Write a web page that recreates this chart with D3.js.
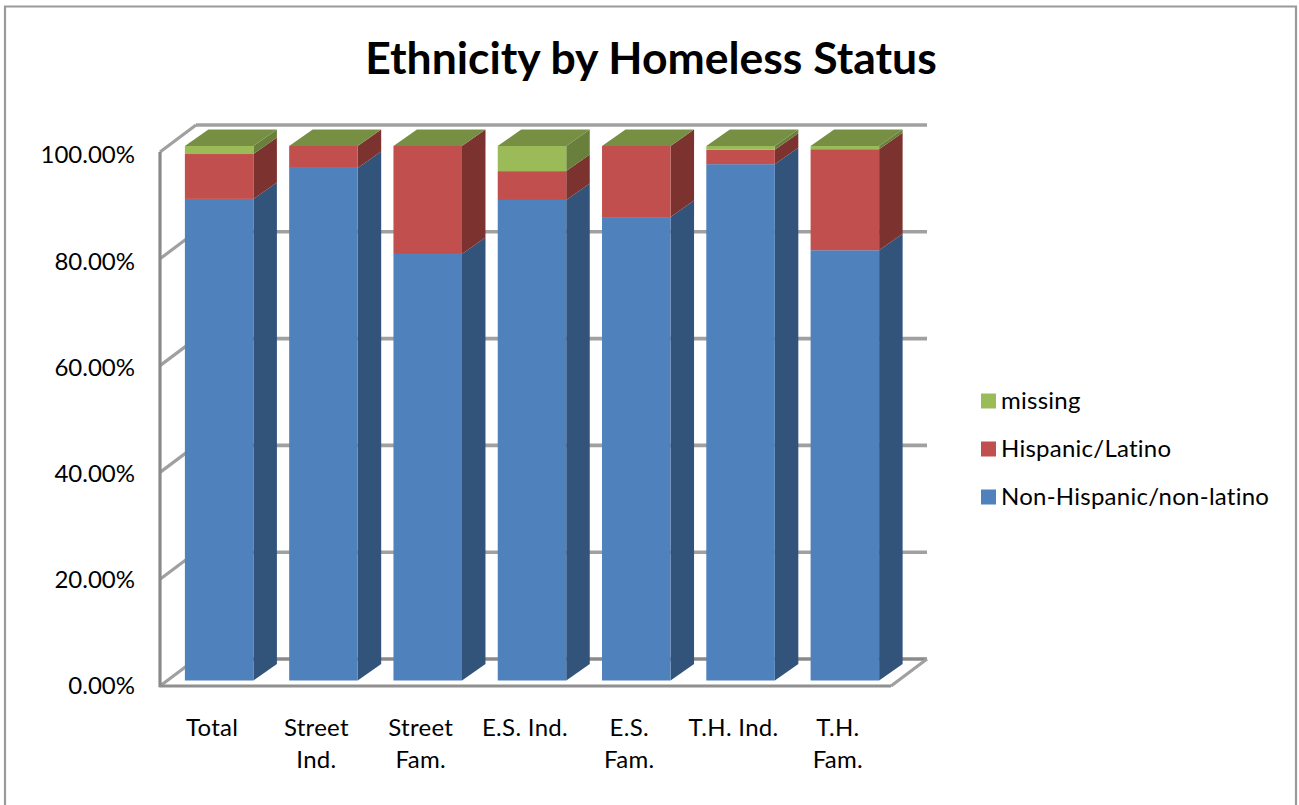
<!DOCTYPE html>
<html><head><meta charset="utf-8">
<script src="https://cdn.jsdelivr.net/npm/d3@7"></script>
<style>html,body{margin:0;padding:0;background:#fff;overflow:hidden}svg{display:block}text{font-family:Lato,"Open Sans",sans-serif;fill:#000}</style>
</head><body><svg id="c" width="1299" height="805"></svg>
<script>
const categories = [["Total"],["Street","Ind."],["Street","Fam."],["E.S. Ind."],["E.S.","Fam."],["T.H. Ind."],["T.H.","Fam."]];
const nonHispanic = [90.1,95.9,79.8,89.9,86.7,96.6,80.5];
const hispanic    = [8.4,4.1,20.2,5.4,13.3,2.7,18.9];
const missing     = [1.5,0,0,4.7,0,0.7,0.6];
const seriesNames = ["Non-Hispanic/non-latino","Hispanic/Latino","missing"];
const tickValues  = [0,20,40,60,80,100];
const legendOrder = [2,1,0];
const frontColors = ["#4f81bd","#c0504d","#9bbb59"];
const sideColors  = ["#31527a","#7b312f","#67803a"];
const topColor    = "#768f43";

const svg = d3.select("#c");
const dx = 23.5, dy = -16.5, wallDx = 36, wallDy = -27;
const x = d3.scaleBand().domain(d3.range(categories.length)).range([160,890]).paddingInner(0.343).paddingOuter(0.1715);
const barOffset = 7;
const yBar = d3.scaleLinear().domain([0,100]).range([680.5,146]);
const yWall = d3.scaleLinear().domain([0,100]).range([686,152]);
const yLabel = d3.scaleLinear().domain([0,100]).range([686,155]);

// outer frame
const frame = "#9a9a9a";
svg.append("path").attr("d","M5,805V6.5H1296V805").attr("fill","none").attr("stroke",frame).attr("stroke-width",2.2);

// soft blur like the reference
const defs = svg.append("defs");
defs.append("filter").attr("id","soft").attr("x","-5%").attr("y","-5%").attr("width","110%").attr("height","110%")
  .append("feGaussianBlur").attr("stdDeviation",0.7);

const plot = svg.append("g").attr("filter","url(#soft)");
const xL = 160, xR = 891;
const grid = "#a0a0a0";

// back gridlines
plot.selectAll("line.grid").data(tickValues).join("line").attr("class","grid")
  .attr("x1",xL+wallDx).attr("x2",xR+wallDx)
  .attr("y1",d=>yWall(d)+wallDy).attr("y2",d=>yWall(d)+wallDy)
  .attr("stroke",d=>d===0?"#8a8a8a":grid).attr("stroke-width",3.6);
// left wall diagonals
plot.selectAll("line.diag").data(tickValues).join("line").attr("class","diag")
  .attr("x1",xL).attr("x2",xL+wallDx)
  .attr("y1",d=>yWall(d)).attr("y2",d=>yWall(d)+wallDy)
  .attr("stroke",grid).attr("stroke-width",3.2);
// left wall vertical and floor
plot.append("line").attr("x1",xL).attr("x2",xL).attr("y1",yWall(100)).attr("y2",yWall(0)+1).attr("stroke","#8a8a8a").attr("stroke-width",3.2);
plot.append("line").attr("x1",xL-1).attr("x2",xR).attr("y1",yWall(0)).attr("y2",yWall(0)).attr("stroke","#909090").attr("stroke-width",3.2);
plot.append("line").attr("x1",xR).attr("x2",xR+wallDx).attr("y1",yWall(0)).attr("y2",yWall(0)+wallDy).attr("stroke","#a0a0a0").attr("stroke-width",3.2);

// stacked bars
const stackRows = categories.map((c,i)=>({i,0:nonHispanic[i],1:hispanic[i],2:missing[i]}));
const stacked = d3.stack().keys([0,1,2])(stackRows);
const poly = pts => pts.map(p=>p.join(",")).join(" ");
stackRows.forEach((row,i)=>{
  const g = plot.append("g");
  const l = x(i)+barOffset, r = l+x.bandwidth();
  stacked.forEach((s,k)=>{
    const y0 = yBar(s[i][0]), y1 = yBar(s[i][1]);
    g.append("polygon").attr("points",poly([[r,y0],[r+dx,y0+dy],[r+dx,y1+dy],[r,y1]])).attr("fill",sideColors[k]);
    g.append("rect").attr("x",l).attr("y",y1).attr("width",x.bandwidth()).attr("height",y0-y1).attr("fill",frontColors[k]);
  });
  const t = yBar(100);
  g.append("polygon").attr("points",poly([[l,t],[l+dx,t+dy],[r+dx,t+dy],[r,t]])).attr("fill",topColor);
});

// y labels
const fs = 24;
svg.selectAll("text.ylab").data(tickValues).join("text").attr("class","ylab")
  .attr("x",135).attr("y",d=>yLabel(d)).attr("dy","0.35em").attr("text-anchor","end")
  .attr("font-size",fs).text(d=>d3.format(".2f")(d)+"%");

// x labels
categories.forEach((lines,i)=>{
  lines.forEach((t,j)=>{
    svg.append("text").attr("x",x(i)+x.bandwidth()/2).attr("y",728+j*32).attr("dy","0.35em")
      .attr("text-anchor","middle").attr("font-size",fs).attr("letter-spacing",0.3).text(t);
  });
});

// title
svg.append("text").attr("x",651).attr("y",58).attr("dy","0.35em").attr("text-anchor","middle")
  .attr("font-size",44.5).attr("font-weight",700).text("Ethnicity by Homeless Status");

// legend
const legY = d3.scalePoint().domain(legendOrder).range([401,497]);
legendOrder.forEach(k=>{
  svg.append("rect").attr("x",981).attr("y",legY(k)-7.5).attr("width",15).attr("height",15).attr("fill",frontColors[k]);
  svg.append("text").attr("x",1001).attr("y",legY(k)).attr("dy","0.35em").attr("font-size",fs).attr("letter-spacing",0.25).text(seriesNames[k]);
});
</script></body></html>
